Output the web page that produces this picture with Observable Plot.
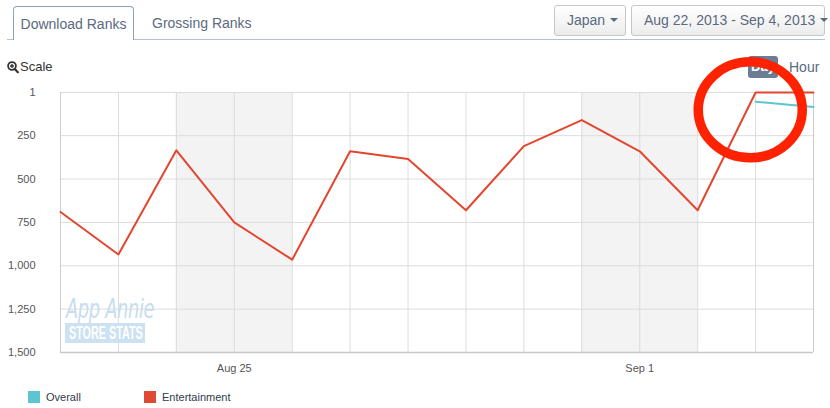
<!DOCTYPE html>
<html>
<head>
<meta charset="utf-8">
<script src="https://cdn.jsdelivr.net/npm/d3@7"></script>
<script src="https://cdn.jsdelivr.net/npm/@observablehq/plot@0.6"></script>
<style>
  html, body { margin: 0; padding: 0; background: #fff; }
  body { width: 830px; height: 408px; position: relative; overflow: hidden;
         font-family: "Liberation Sans", Arial, Helvetica, sans-serif; }
  .abs { position: absolute; }
  .hline { left: 7px; top: 39px; width: 818px; height: 1px; background: #b3c2d1; }
  .tab { left: 13px; top: 6px; height: 34px; border: 1px solid #8ea2b7; border-bottom: none;
         border-radius: 4px 4px 0 0; background: #fff; box-sizing: border-box; width: 121px;
         font-size: 14px; color: #5a6a7f; line-height: 34px; text-align: center; }
  .tab2 { left: 152px; top: 6px; height: 34px; line-height: 34px; font-size: 14px; color: #5a6a7f; }
  .btn { top: 5px; height: 31px; box-sizing: border-box; border: 1px solid #c4c8cc; border-radius: 3px;
         background: linear-gradient(#ffffff, #ececec); font-size: 14px; color: #5a6a7f; line-height: 29px;
         padding-left: 12px; white-space: nowrap; }
  .caret { display: inline-block; width: 0; height: 0; border-left: 4px solid transparent; border-right: 4px solid transparent;
           border-top: 4px solid #5a6a7f; vertical-align: middle; margin-left: 5px; margin-top: -2px; }
  .scale { left: 20px; top: 59px; font-size: 13px; color: #333; line-height: 16px; }
  .day { left: 748px; top: 56px; width: 30px; height: 22px; background: #6b7c94; border-radius: 3px;
         color: #fff; font-weight: bold; font-size: 13px; line-height: 22px; text-align: center; }
  .hour { left: 789px; top: 58px; font-size: 14px; color: #5a6a7f; line-height: 18px; }
  #chart { left: 0; top: 80px; z-index: 5; }
  .wm1 { left: 66px; top: 294px; font-size: 27px; font-style: italic; color: #c6ddef; letter-spacing: -0.5px;
         transform: scaleX(0.66); transform-origin: left top; font-family: "DejaVu Sans", sans-serif; z-index: 6; white-space: nowrap; line-height: 30px; }
  .wm2 { left: 65px; top: 323px; width: 80px; height: 20px; background: rgba(198,222,240,0.9); z-index: 6;
         overflow: hidden; white-space: nowrap; }
  .wm2 span { position: absolute; left: 4px; top: 0; display: inline-block; color: #fff; font-weight: bold; font-size: 18px;
         line-height: 20px; transform: scaleX(0.6); transform-origin: left top; font-family: "Liberation Sans", sans-serif; }
  .leg { top: 390px; font-size: 11px; color: #2f3b4c; line-height: 14px; }
  .sw { display: inline-block; width: 12px; height: 12px; vertical-align: -2px; margin-right: 6px; }
</style>
</head>
<body>
<div class="abs hline"></div>
<div class="abs tab">Download Ranks</div>
<div class="abs tab2">Grossing Ranks</div>
<div class="abs btn" style="left:554px;width:72px;">Japan<span class="caret"></span></div>
<div class="abs btn" style="left:631px;width:194px;">Aug 22, 2013 - Sep 4, 2013<span class="caret"></span></div>
<svg class="abs" style="left:7px;top:61px" width="12" height="13" viewBox="0 0 12 13">
  <circle cx="5" cy="5" r="3.9" fill="none" stroke="#333" stroke-width="1.8"/>
  <path d="M3 5h4M5 3v4" stroke="#333" stroke-width="1.4"/>
  <path d="M7.6 7.8l3.2 3.4" stroke="#333" stroke-width="2.2" stroke-linecap="round"/>
</svg>
<div class="abs scale">Scale</div>
<div class="abs day">Day</div>
<div class="abs hour">Hour</div>
<div class="abs wm1">App Annie</div>
<div class="abs wm2"><span>STORE STATS</span></div>
<div class="abs leg" style="left:28px;"><span class="sw" style="background:#5bc6d1"></span>Overall</div>
<div class="abs leg" style="left:144px;"><span class="sw" style="background:#e04a35"></span>Entertainment</div>
<div id="chart" class="abs"></div>
<script>
// ---- data ----
const dates = ["2013-08-22","2013-08-23","2013-08-24","2013-08-25","2013-08-26","2013-08-27","2013-08-28",
               "2013-08-29","2013-08-30","2013-08-31","2013-09-01","2013-09-02","2013-09-03","2013-09-04"];
const entertainment = [690, 935, 334, 750, 965, 340, 385, 680, 310, 160, 340, 680, 1, 1];
const overallDates = ["2013-09-03","2013-09-04"];
const overall = [54, 85];
const weekendStart = ["2013-08-24","2013-08-31"];
const weekendEnd   = ["2013-08-26","2013-09-02"];
const yTicks = [1, 250, 500, 750, 1000, 1250, 1500];
const xTickDates = ["2013-08-25","2013-09-01"];
const annotation = {date: "2013-09-02T22:00:00Z", rank: 104};

const P = d => new Date(d.length > 10 ? d : d + "T00:00:00Z");
const ent = dates.map((d, i) => ({date: P(d), rank: entertainment[i]}));
const ov = overallDates.map((d, i) => ({date: P(d), rank: overall[i]}));
const weekends = weekendStart.map((d, i) => ({x1: P(d), x2: P(weekendEnd[i])}));
const days = dates.map(P);

const plot = Plot.plot({
  width: 830, height: 300,
  marginTop: 12, marginBottom: 28, marginLeft: 60, marginRight: 17,
  style: {fontFamily: "'Liberation Sans', Arial, sans-serif", fontSize: "11px", color: "#555", background: "transparent", overflow: "visible"},
  x: {type: "utc", domain: [days[0], days[days.length - 1]]},
  y: {domain: [1, 1500], reverse: true},
  marks: [
    Plot.rect(weekends, {x1: "x1", x2: "x2", fill: "#f3f3f3"}),
    Plot.ruleX(days, {stroke: "#dcdcdc", strokeWidth: 1}),
    Plot.ruleY(yTicks, {stroke: "#dcdcdc", strokeWidth: 1}),
    Plot.ruleX([days[0], days[days.length - 1]], {stroke: "#cccccc", strokeWidth: 1}),
    Plot.ruleY([1500], {stroke: "#c8c8c8", strokeWidth: 1.5}),
    Plot.axisY({ticks: yTicks, tickFormat: d3.format(","), tickSize: 0, tickPadding: 25, label: null, fill: "#555"}),
    Plot.axisX({ticks: xTickDates.map(P), tickFormat: d3.utcFormat("%b %-d"), tickSize: 0, tickPadding: 12, label: null, fill: "#555"}),
    Plot.line(ent, {x: "date", y: "rank", stroke: "#e2462f", strokeWidth: 2}),
    Plot.line(ov, {x: "date", y: "rank", stroke: "#5bc6d1", strokeWidth: 2})
  ]
});
document.getElementById("chart").appendChild(plot);

// annotation ring, positioned through the plot's own scales
const sx = plot.scale("x"), sy = plot.scale("y");
const cx = sx.apply(P(annotation.date)), cy = sy.apply(annotation.rank);
d3.select(plot).append("ellipse")
  .attr("cx", cx).attr("cy", cy).attr("rx", 52).attr("ry", 48)
  .attr("fill", "none").attr("stroke", "#ff2200").attr("stroke-width", 9.5);
</script>
</body>
</html>
